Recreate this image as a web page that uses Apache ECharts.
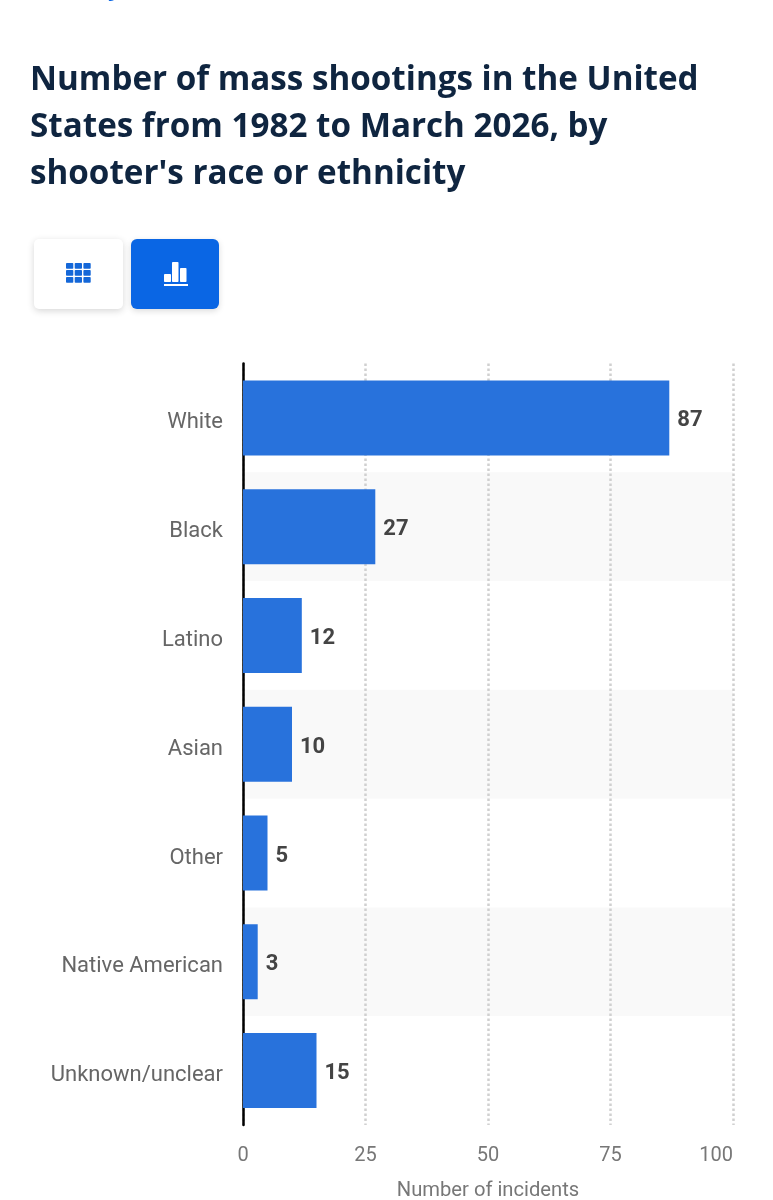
<!DOCTYPE html>
<html><head><meta charset="utf-8">
<style>html,body{margin:0;padding:0;background:#fff}#c{width:773px;height:1200px}</style>
<script src="https://cdn.jsdelivr.net/npm/echarts@6/dist/echarts.min.js"></script>
</head><body><div id="c"></div>
<script>
const categories = ['White','Black','Latino','Asian','Other','Native American','Unknown/unclear'];
const incidents = [87,27,12,10,5,3,15];
const titleText = "Number of mass shootings in the United\nStates from 1982 to March 2026, by\nshooter's race or ethnicity";
const axisName = 'Number of incidents';

const chart = echarts.init(document.getElementById('c'), null, {renderer:'canvas'});
const blue = '#0a66e4';
const grid = [];
for (let r=0;r<3;r++) for (let c=0;c<3;c++) grid.push({type:'rect',shape:{x:66+c*8.7,y:263+r*7,width:7.3,height:5.8,r:0.8},style:{fill:'#1467d8'}});
chart.setOption({
  animation:false,
  backgroundColor:'#fff',
  title:{text:titleText,left:30,top:57,padding:0,textStyle:{fontFamily:'Open Sans',fontWeight:'bold',fontSize:33.2,lineHeight:47,color:'#0f2540'}},
  grid:{left:243,width:490,top:363.5,height:761.5,outerBoundsMode:'none'},
  xAxis:{type:'value',min:0,max:100,interval:25,
    name:axisName,nameLocation:'middle',nameGap:56,
    nameTextStyle:{fontFamily:'Roboto',fontSize:20.2,color:'#777'},
    axisLine:{show:false},axisTick:{show:false},
    axisLabel:{fontFamily:'Roboto',fontSize:20,color:'#777',margin:21,alignMaxLabel:'right'},
    splitLine:{show:true,lineStyle:{color:'#d0d0d0',width:2.5,type:[2.5,2.5]}}},
  yAxis:{type:'category',data:categories,inverse:true,
    axisLine:{show:true,onZero:false,lineStyle:{color:'#000',width:2.5}},axisTick:{show:false},
    axisLabel:{fontFamily:'Roboto',fontSize:22,color:'#666',margin:20,verticalAlign:'top',lineHeight:10},
    splitArea:{show:true,areaStyle:{color:['#ffffff','#f9f9f9']}}},
  series:[{type:'bar',data:incidents,barWidth:75,
    itemStyle:{color:'#2872dc'},
    label:{show:true,position:'right',distance:8,offset:[0,3],fontFamily:'Roboto',fontWeight:'bold',fontSize:22,color:'#444'}}],
  graphic:[
    {type:'text',x:108,y:-27,style:{text:'y',fontFamily:'Open Sans',fontWeight:'bold',fontSize:24,lineHeight:30,fill:blue}},
    {type:'rect',shape:{x:34,y:239,width:89,height:70,r:5},style:{fill:'#fff',shadowBlur:7,shadowColor:'rgba(0,0,0,0.16)',shadowOffsetY:2}},
    {type:'rect',shape:{x:131,y:239,width:88,height:70,r:6},style:{fill:blue,shadowBlur:6,shadowColor:'rgba(0,0,0,0.14)',shadowOffsetY:2}},
    ...grid,
    {type:'rect',shape:{x:164,y:274,width:7,height:8,r:0.8},style:{fill:'#fff'}},
    {type:'rect',shape:{x:172,y:262,width:6.5,height:20,r:0.8},style:{fill:'#fff'}},
    {type:'rect',shape:{x:180,y:268,width:6.5,height:14,r:0.8},style:{fill:'#fff'}},
    {type:'rect',shape:{x:164,y:284,width:24,height:2},style:{fill:'#fff'}}
  ]
});
</script></body></html>
